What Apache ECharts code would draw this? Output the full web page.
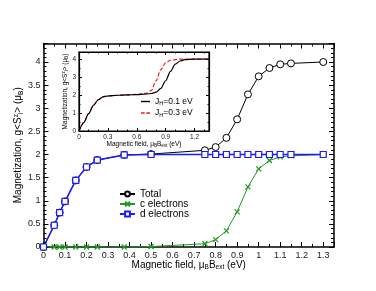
<!DOCTYPE html>
<html><head><meta charset="utf-8">
<script src="https://cdn.jsdelivr.net/npm/echarts@6/dist/echarts.min.js"></script>
<style>html,body{margin:0;padding:0;background:#fff}#c{width:376px;height:291px}</style>
</head><body><div id="c"></div>
<script>
// Main panel data
const fieldMain = [0,0.05,0.075,0.1,0.15,0.2,0.25,0.375,0.5,0.75,0.8,0.85,0.9,0.95,1.0,1.05,1.1,1.15,1.3];
const totalMag  = [0,0.47,0.745,0.985,1.44,1.73,1.88,1.99,2.01,2.09,2.16,2.36,2.76,3.3,3.69,3.87,3.95,3.97,4.0];
const cElectrons = [0,0,0,0,0,0,0,0,0.01,0.07,0.16,0.35,0.76,1.3,1.69,1.87,1.95,1.97,2.0];
const dElectrons = [0,0.47,0.745,0.985,1.44,1.73,1.88,1.99,2.0,2.0,2.0,2.0,2.0,2.0,2.0,2.0,2.0,2.0,2.0];
// Inset data
const fieldInset = [0,0.05,0.1,0.15,0.2,0.25,0.3,0.4,0.5,0.6,0.7,0.75,0.8,0.85,0.9,0.95,1.0,1.05,1.1,1.2,1.35];
const jh01 = [0,0.47,0.97,1.43,1.74,1.9,1.95,1.99,2.01,2.03,2.06,2.09,2.16,2.37,2.8,3.32,3.72,3.9,3.97,4.0,4.01];
const jh03 = [0,0.47,0.97,1.43,1.74,1.9,1.95,1.99,2.01,2.04,2.1,2.25,2.8,3.42,3.8,3.94,3.98,4.0,4.0,4.01,4.01];
const seriesNames = ['Total','c electrons','d electrons'];
const insetNames = ['JH=0.1 eV','JH=0.3 eV'];

const zip = (xs, ys) => xs.map((x, i) => [x, ys[i]]);
const FONT = 'Liberation Sans, Arial, sans-serif';
const BLK = '#000';

function axisX(grid, pos, main, extra) {
  return Object.assign({
    type: 'value', gridIndex: grid, position: pos, min: 0, max: 1.35,
    interval: main ? 0.1 : 0.3,
    axisLine: { onZero: false, lineStyle: { color: BLK, width: main ? 1.5 : 1.2 } },
    axisTick: { inside: true, length: main ? 5 : 3, lineStyle: { color: BLK } },
    minorTick: { show: true, splitNumber: main ? 2 : 3, length: main ? 3 : 1.5, lineStyle: { color: BLK } },
    splitLine: { show: false },
    nameMoveOverlap: false,
    axisLabel: pos === 'bottom' ? {
      fontSize: main ? 9 : 6.5, color: '#222', fontFamily: FONT, margin: main ? 4 : 3,
      showMaxLabel: false,
      formatter: v => String(Math.round(v * 10) / 10)
    } : { show: false }
  }, extra || {});
}
function axisY(grid, pos, main, extra) {
  return Object.assign({
    type: 'value', gridIndex: grid, position: pos, min: 0, max: 4.4,
    interval: main ? 0.5 : 1,
    axisLine: { onZero: false, lineStyle: { color: BLK, width: main ? 1.5 : 1.2 } },
    axisTick: { inside: true, length: main ? 5 : 3, lineStyle: { color: BLK } },
    minorTick: { show: true, splitNumber: main ? 5 : 2, length: main ? 3 : 1.5, lineStyle: { color: BLK } },
    splitLine: { show: false },
    nameMoveOverlap: false,
    axisLabel: pos === 'left' ? {
      fontSize: main ? 9 : 6.5, color: '#222', fontFamily: FONT, margin: 3,
      showMaxLabel: false,
      formatter: v => String(Math.round(v * 10) / 10)
    } : { show: false }
  }, extra || {});
}

const richMain = {
  n: { fontSize: 10, fontFamily: FONT, color: BLK },
  sub: { fontSize: 6.5, fontFamily: FONT, color: BLK, padding: [5, 0, 0, 0] },
  sup: { fontSize: 6.5, fontFamily: FONT, color: BLK, padding: [0, 0, 5, 0] }
};
const richInset = {
  n: { fontSize: 6.5, fontFamily: FONT, color: BLK },
  sub: { fontSize: 4.5, fontFamily: FONT, color: BLK, padding: [3, 0, 0, 0] },
  sup: { fontSize: 4.5, fontFamily: FONT, color: BLK, padding: [0, 0, 3, 0] }
};
const xName = '{n|Magnetic field, μ}{sub|B}{n|B}{sub|ext}{n| (eV)}';
const yName = '{n|Magnetization, g<S}{sup|z}{sub|i}{n|> (μ}{sub|B}{n|)}';

const chart = echarts.init(document.getElementById('c'), null, { renderer: 'canvas' });
chart.setOption({
  backgroundColor: '#fff',
  animation: false,
  grid: [
    { left: 43.5, top: 43.5, width: 290.5, height: 203.5, show: false, containLabel: false, outerBoundsMode: 'none' },
    { left: 79, top: 52, width: 130, height: 79, show: true, backgroundColor: '#fff', borderColor: BLK, borderWidth: 1.2, z: 5, containLabel: false, outerBoundsMode: 'none' }
  ],
  xAxis: [
    axisX(0, 'bottom', true, { name: xName, nameLocation: 'middle', nameGap: 12, nameTextStyle: { rich: richMain } }),
    axisX(0, 'top', true),
    axisX(1, 'bottom', false, { name: xName, nameLocation: 'middle', nameGap: 9, nameTextStyle: { rich: richInset }, z: 6 }),
    axisX(1, 'top', false, { z: 6 })
  ],
  yAxis: [
    axisY(0, 'left', true, { name: yName, nameLocation: 'middle', nameGap: 19, nameRotate: 90, nameTextStyle: { rich: richMain } }),
    axisY(0, 'right', true),
    axisY(1, 'left', false, { name: yName, nameLocation: 'middle', nameGap: 10, nameRotate: 90, nameTextStyle: { rich: richInset }, z: 6 }),
    axisY(1, 'right', false, { z: 6 })
  ],
  legend: [
    {
      data: seriesNames, orient: 'vertical', left: 119, top: 189, itemGap: 0, padding: 0,
      itemWidth: 15, itemHeight: 6, textStyle: { fontSize: 10, lineHeight: 10, fontFamily: FONT, color: BLK }
    },
    {
      data: [
        { name: insetNames[0], icon: 'path://M0,0H20V2H0Z' },
        { name: insetNames[1], icon: 'path://M0,0H7V2H0Z M10,0H17V2H10Z' }
      ],
      orient: 'vertical', left: 141, top: 97, itemGap: 2, padding: 0,
      itemWidth: 9, itemHeight: 1.4, symbolKeepAspect: false, z: 7,
      formatter: name => '{n|J}{sub|H}{n|' + name.slice(2) + '}',
      textStyle: { rich: {
        n: { fontSize: 8.5, fontFamily: FONT, color: BLK },
        sub: { fontSize: 5.5, fontFamily: FONT, color: BLK, padding: [4, 0, 0, 0] } } }
    }
  ],
  series: [
    {
      name: seriesNames[0], type: 'line', xAxisIndex: 0, yAxisIndex: 0, data: zip(fieldMain, totalMag),
      symbol: 'circle', symbolSize: 7, showAllSymbol: true,
      lineStyle: { color: BLK, width: 1 },
      itemStyle: { color: '#fff', borderColor: BLK, borderWidth: 1 }, z: 2
    },
    {
      name: seriesNames[1], type: 'line', xAxisIndex: 0, yAxisIndex: 0, data: zip(fieldMain, cElectrons),
      symbol: 'path://M0,0L10,10M0,10L10,0', symbolSize: 5, showAllSymbol: true,
      lineStyle: { color: '#1f9a1f', width: 1 },
      itemStyle: { color: 'rgba(0,0,0,0)', borderColor: '#1f9a1f', borderWidth: 1.2 }, z: 3
    },
    {
      name: seriesNames[2], type: 'line', xAxisIndex: 0, yAxisIndex: 0, data: zip(fieldMain, dElectrons),
      symbol: 'rect', symbolSize: 6, showAllSymbol: true,
      lineStyle: { color: '#1a1aff', width: 1.5 },
      itemStyle: { color: '#fff', borderColor: '#1a1aff', borderWidth: 1.2 }, z: 4
    },
    {
      name: insetNames[1], type: 'line', xAxisIndex: 2, yAxisIndex: 2, data: zip(fieldInset, jh03),
      symbol: 'none', smooth: 0.3, smoothMonotone: 'x',
      lineStyle: { color: '#ee1c1c', width: 1.2, type: [4, 2] }, itemStyle: { color: '#ee1c1c' }, z: 6
    },
    {
      name: insetNames[0], type: 'line', xAxisIndex: 2, yAxisIndex: 2, data: zip(fieldInset, jh01),
      symbol: 'none', smooth: 0.3, smoothMonotone: 'x',
      lineStyle: { color: BLK, width: 1.2 }, itemStyle: { color: BLK }, z: 6
    }
  ]
});
</script></body></html>
